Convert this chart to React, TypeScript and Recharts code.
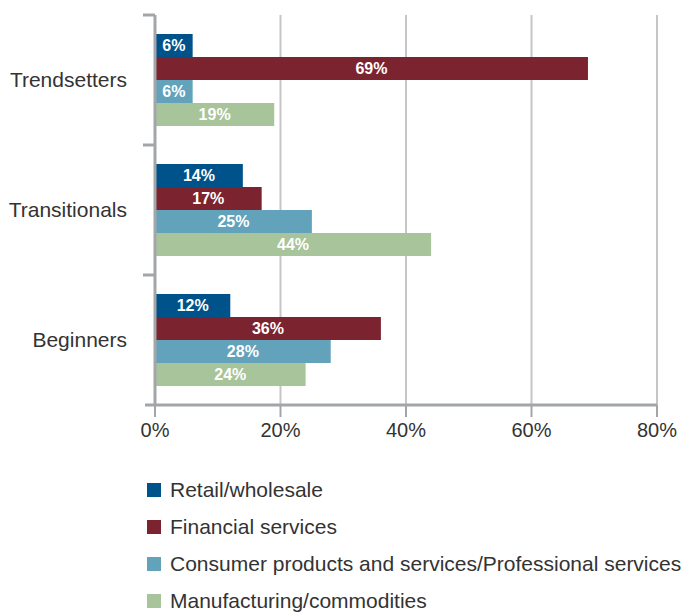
import { BarChart, Bar, XAxis, YAxis, CartesianGrid, LabelList } from 'recharts'

const categories = ['Trendsetters', 'Transitionals', 'Beginners']
const retail = [6, 14, 12]
const financial = [69, 17, 36]
const consumer = [6, 25, 28]
const manufacturing = [19, 44, 24]
const xTicks = [0, 20, 40, 60, 80]

const SERIES = [
  { key: 'retail', name: 'Retail/wholesale', color: '#00538a', values: retail },
  { key: 'financial', name: 'Financial services', color: '#7b232f', values: financial },
  { key: 'consumer', name: 'Consumer products and services/Professional services', color: '#62a3bb', values: consumer },
  { key: 'manufacturing', name: 'Manufacturing/commodities', color: '#a8c49a', values: manufacturing },
]

const data = categories.map((c, i) => {
  const row: Record<string, string | number> = { category: c }
  SERIES.forEach(s => { row[s.key] = s.values[i] })
  return row
})

const FONT = '"Liberation Sans", Arial, Helvetica, sans-serif'
const AXIS = '#a3a6a9'
const HALF_BAND = 65

function CategoryTick(props: any) {
  const { x, y, payload, index } = props
  return (
    <g>
      <text x={x - 20} y={y} dy={7} textAnchor="end" fontSize={21} fill="#333" fontFamily={FONT}>
        {payload.value}
      </text>
      <line x1={x - 4} x2={x + 8} y1={y - HALF_BAND} y2={y - HALF_BAND} stroke={AXIS} strokeWidth={3} />
      {index === categories.length - 1 && (
        <line x1={x - 2} x2={x + 8} y1={y + HALF_BAND} y2={y + HALF_BAND} stroke={AXIS} strokeWidth={3} />
      )}
    </g>
  )
}

export default function App() {
  return (
    <div style={{ position: 'absolute', left: 0, top: 0, width: 687, height: 613, background: '#fff', fontFamily: FONT, overflow: 'hidden' }}>
      <BarChart
        width={687}
        height={450}
        data={data}
        layout="vertical"
        margin={{ top: 15, right: 30, bottom: 0, left: 0 }}
        barSize={23}
        barGap={0}
      >
        <CartesianGrid horizontal={false} stroke="#c4c6c8" strokeWidth={2} />
        <XAxis
          type="number"
          domain={[0, 80]}
          ticks={xTicks}
          tickFormatter={(v: number) => `${v}%`}
          height={45}
          tickSize={12}
          axisLine={{ stroke: AXIS, strokeWidth: 3 }}
          tickLine={{ stroke: AXIS, strokeWidth: 2 }}
          tick={{ fontSize: 20, fill: '#333', fontFamily: FONT }}
          tickMargin={6}
        />
        <YAxis
          type="category"
          dataKey="category"
          width={155}
          axisLine={{ stroke: AXIS, strokeWidth: 3 }}
          tickLine={false}
          tick={<CategoryTick />}
        />
        {SERIES.map(s => (
          <Bar key={s.key} dataKey={s.key} name={s.name} fill={s.color} isAnimationActive={false}>
            <LabelList
              dataKey={s.key}
              position="center"
              formatter={(v: number) => `${v}%`}
              fill="#fff"
              fontSize={16}
              fontWeight="bold"
              fontFamily={FONT}
            />
          </Bar>
        ))}
      </BarChart>
      <div style={{ position: 'absolute', left: 147, top: 471 }}>
        {SERIES.map(s => (
          <div key={s.key} style={{ display: 'flex', alignItems: 'center', height: 37 }}>
            <span style={{ width: 14, height: 14, background: s.color, marginRight: 9, display: 'inline-block' }} />
            <span style={{ fontSize: 21, lineHeight: 1, color: '#333', whiteSpace: 'nowrap' }}>{s.name}</span>
          </div>
        ))}
      </div>
    </div>
  )
}
